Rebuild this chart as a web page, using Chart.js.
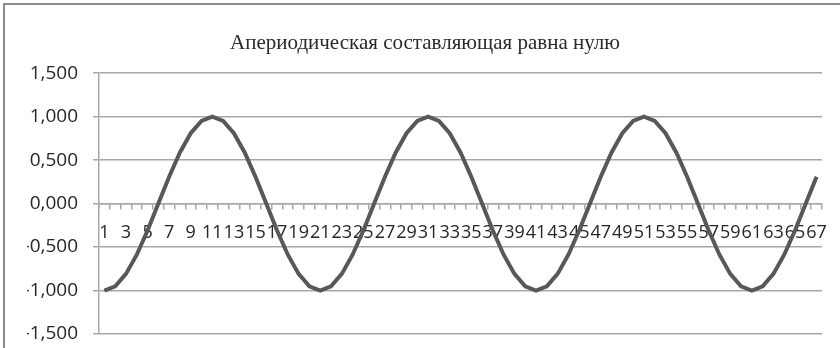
<!DOCTYPE html>
<html>
<head>
<meta charset="utf-8">
<script src="https://cdn.jsdelivr.net/npm/chart.js@4"></script>
<style>
    body { margin: 0; background: #fff; }
    #wrap { position: relative; width: 840px; height: 348px; overflow: hidden; }
    #frame { position: absolute; left: 3px; top: 3px; right: -10px; bottom: -10px;
             border-left: 2px solid #8c8c8c; border-top: 2px solid #8c8c8c; pointer-events: none; }
</style>
</head>
<body>
<div id="wrap">
    <canvas id="waveChart" width="840" height="348"></canvas>
    <div id="frame"></div>
</div>
<script>
// Номера точек по оси X
const categories = [1, 2, 3, 4, 5, 6, 7, 8, 9, 10, 11, 12, 13, 14, 15, 16, 17, 18, 19, 20,
    21, 22, 23, 24, 25, 26, 27, 28, 29, 30, 31, 32, 33, 34, 35, 36, 37, 38, 39, 40,
    41, 42, 43, 44, 45, 46, 47, 48, 49, 50, 51, 52, 53, 54, 55, 56, 57, 58, 59, 60,
    61, 62, 63, 64, 65, 66, 67];

// Значения тока
const values = [
    -1.000, -0.951, -0.809, -0.588, -0.309, 0.000, 0.309, 0.588, 0.809, 0.951,
    1.000, 0.951, 0.809, 0.588, 0.309, 0.000, -0.309, -0.588, -0.809, -0.951,
    -1.000, -0.951, -0.809, -0.588, -0.309, 0.000, 0.309, 0.588, 0.809, 0.951,
    1.000, 0.951, 0.809, 0.588, 0.309, 0.000, -0.309, -0.588, -0.809, -0.951,
    -1.000, -0.951, -0.809, -0.588, -0.309, 0.000, 0.309, 0.588, 0.809, 0.951,
    1.000, 0.951, 0.809, 0.588, 0.309, 0.000, -0.309, -0.588, -0.809, -0.951,
    -1.000, -0.951, -0.809, -0.588, -0.309, 0.000, 0.309
];

// Деления оси Y
const yTicks = [-1.5, -1.0, -0.5, 0.0, 0.5, 1.0, 1.5];

const chartTitle = 'Апериодическая составляющая равна нулю';

const gridColor = '#a8a8a8';

new Chart(document.getElementById('waveChart'), {
    type: 'line',
    data: {
        labels: categories,
        datasets: [{
            data: values,
            borderColor: '#585858',
            borderWidth: 4,
            pointRadius: 0,
            tension: 0,
            fill: false
        }]
    },
    options: {
        responsive: false,
        animation: false,
        devicePixelRatio: 1,
        layout: {
            padding: { top: 0, right: 17, bottom: 14, left: 27 }
        },
        plugins: {
            legend: { display: false },
            tooltip: { enabled: false },
            title: {
                display: true,
                text: chartTitle,
                color: '#2a2a2a',
                font: { family: 'Liberation Serif', size: 21, weight: 'normal' },
                padding: { top: 31, bottom: 17 }
            }
        },
        scales: {
            y: {
                min: yTicks[0],
                max: yTicks[yTicks.length - 1],
                afterFit: function(scale) {
                    scale.width = 72;
                    scale.paddingTop = 12;
                    scale.paddingBottom = 12;
                },
                afterBuildTicks: function(scale) {
                    scale.ticks = yTicks.map(function(v) { return { value: v }; });
                },
                ticks: {
                    color: '#262626',
                    padding: 15,
                    font: { family: 'Open Sans', size: 19 },
                    callback: function(value) {
                        return value.toFixed(3).replace('.', ',');
                    }
                },
                grid: { color: gridColor, lineWidth: 1.5, tickLength: 6 },
                border: { color: gridColor, width: 1.5 }
            },
            x: {
                position: { y: 0 },
                offset: true,
                afterFit: function(scale) { scale.height = 0; },
                ticks: {
                    autoSkip: false,
                    maxRotation: 0,
                    minRotation: 0,
                    padding: 13,
                    color: '#262626',
                    font: { family: 'Open Sans', size: 18 },
                    callback: function(value, index) {
                        return index % 2 === 0 ? this.getLabelForValue(value) : '';
                    }
                },
                grid: {
                    offset: true,
                    drawOnChartArea: false,
                    drawTicks: true,
                    tickLength: 5,
                    color: gridColor,
                    lineWidth: 1.5
                },
                border: { color: gridColor, width: 1.5 }
            }
        }
    }
});
</script>
</body>
</html>
